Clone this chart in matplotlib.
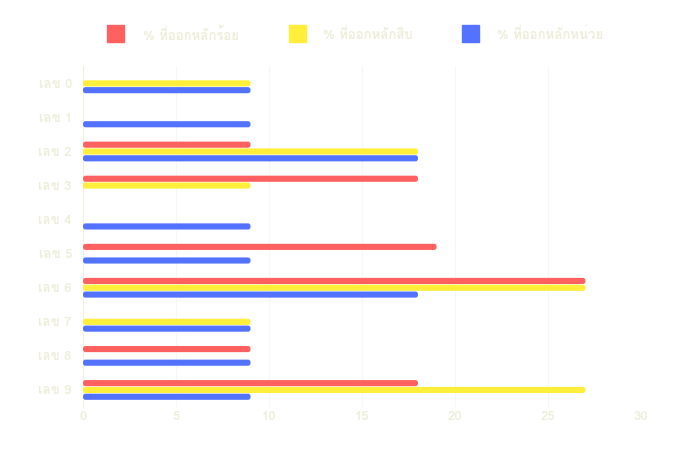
import matplotlib
matplotlib.use("Agg")
import matplotlib.pyplot as plt
from matplotlib import font_manager
from matplotlib.ft2font import FT2Font
from matplotlib.patches import Rectangle, FancyBboxPatch
import numpy as np

categories = ["เลข 0", "เลข 1", "เลข 2", "เลข 3", "เลข 4",
              "เลข 5", "เลข 6", "เลข 7", "เลข 8", "เลข 9"]
series_names = ["% ที่ออกหลักร้อย", "% ที่ออกหลักสิบ", "% ที่ออกหลักหน่วย"]
hundreds = [0, 0, 9, 18, 0, 19, 27, 0, 9, 18]
tens = [9, 0, 18, 9, 0, 0, 27, 9, 0, 27]
units = [9, 9, 18, 0, 9, 9, 18, 9, 9, 9]
x_ticks = [0, 5, 10, 15, 20, 25, 30]

colors = ["#ff6060", "#ffef3a", "#5372ff"]
text_color = "#eeeedb"

# find a font with Thai glyphs
thai_fams = []
for f in font_manager.fontManager.ttflist:
    try:
        cm = FT2Font(f.fname).get_charmap()
        if 0x0E01 in cm and 0x0E2D in cm:
            if f.name not in thai_fams:
                thai_fams.append(f.name)
    except Exception:
        pass
families = thai_fams + ["DejaVu Sans"]
plt.rcParams['font.family'] = families

W, H = 675, 450
fig = plt.figure(figsize=(6.75, 4.5), dpi=100)
ax_rect = [0.123, 0.0956, 0.827, 0.757]
ax = fig.add_axes(ax_rect)

y = np.arange(len(categories))
off = 0.2
h = 0.18
xmax = 30
px_per_x = ax_rect[2] * W / xmax
px_per_y = ax_rect[3] * H / len(categories)
aspect = px_per_x / px_per_y
r = 2.5 / px_per_x

for i, vals in enumerate([hundreds, tens, units]):
    bars = ax.barh(y + (i - 1) * off, vals, height=h, color=colors[i], zorder=3)
    for b in bars:
        b.set_visible(False)
        if b.get_width() <= 0:
            continue
        p = FancyBboxPatch((b.get_x(), b.get_y()), b.get_width(), b.get_height(),
                           boxstyle=f"round,pad=0,rounding_size={r}",
                           mutation_aspect=aspect, facecolor=colors[i],
                           edgecolor='none', zorder=3)
        ax.add_patch(p)

ax.set_ylim(len(categories) - 0.5, -0.5)
ax.set_xlim(0, xmax)
ax.set_xticks(x_ticks)
ax.set_yticks(y)
ax.set_yticklabels(categories)
ax.tick_params(axis='both', colors=text_color, length=0, labelsize=9.5)
ax.tick_params(axis='y', pad=8)
ax.tick_params(axis='x', pad=3)
for lab in ax.get_xticklabels() + ax.get_yticklabels():
    lab.set_fontweight('bold')
ax.grid(axis='x', color="#f8f8f2", linewidth=0.8, zorder=0)
ax.grid(axis='y', visible=False)
for s in ["top", "right", "bottom"]:
    ax.spines[s].set_visible(False)
ax.spines["left"].set_color("#f0efe0")

# legend
sq_x = [107, 289, 462]
tx_x = [143, 323, 497]
for i in range(3):
    fig.patches.append(Rectangle((sq_x[i] / W, 1 - 42 / H), 17 / W, 17 / H,
                                 transform=fig.transFigure, color=colors[i]))
    fig.text(tx_x[i] / W, 1 - 35 / H, series_names[i], color=text_color,
             fontsize=9.5, fontweight='bold', va='center', ha='left')

fig.savefig("out.png", dpi=100)
